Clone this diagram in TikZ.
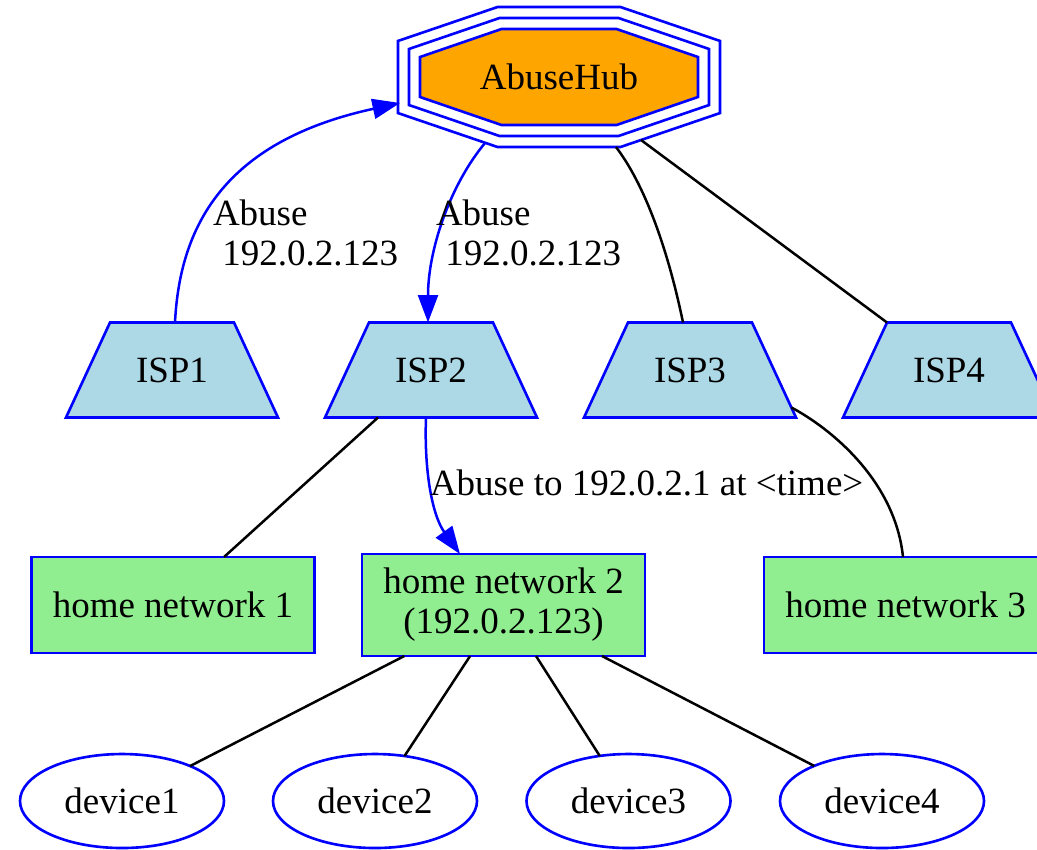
\documentclass[tikz,border=0pt]{standalone}
\usepackage{fontspec}
\setmainfont{Liberation Serif}
\usetikzlibrary{calc,arrows.meta,shapes.geometric}
\pgfdeclarelayer{background}
\pgfsetlayers{background,main}
\definecolor{hubfill}{HTML}{FFA500}
\definecolor{ispfill}{HTML}{ADD8E6}
\definecolor{homefill}{HTML}{90EE90}
\definecolor{edgeblue}{HTML}{0000FF}

\begin{document}
\begin{tikzpicture}[x=0.4pt,y=-0.4pt,
  every node/.style={font=\fontsize{14.8}{16}\selectfont, inner sep=0pt, outer sep=0pt},
  outline/.style={draw=edgeblue, line width=1.05pt},
  ispbox/.style={rectangle, minimum width=84.8pt, minimum height=38pt},
  homebox/.style={outline, fill=homefill, rectangle, minimum width=113.2pt, minimum height=38.4pt, align=center},
  devicebox/.style={outline, ellipse, minimum width=81.6pt, minimum height=37.6pt},
  link/.style={line width=1pt, black},
  flow/.style={line width=1pt, edgeblue, -{Triangle[length=11pt,width=8pt]}},
  flowlabel/.style={anchor=base west},
]
\useasboundingbox (0,0) rectangle (1037,849);
\clip (0,0) rectangle (1037,849);

% white page and the hub: triple octagon
\coordinate (hubc) at (559,77);
\begin{pgfonlayer}{background}
  \fill[white] (0,0) rectangle (1037,849);
  \foreach \d/\fc in {22/none, 11/none, 0/hubfill}{
    \draw[outline, fill=\fc]
      ($(hubc)+({-57.5-0.18*\d},{-48-\d})$) -- ($(hubc)+({57.5+0.18*\d},{-48-\d})$)
      -- ($(hubc)+({139+\d},{-20-0.73*\d})$) -- ($(hubc)+({139+\d},{20+0.73*\d})$)
      -- ($(hubc)+({57.5+0.18*\d},{48+\d})$) -- ($(hubc)+({-57.5-0.18*\d},{48+\d})$)
      -- ($(hubc)+({-139-\d},{20+0.73*\d})$) -- ($(hubc)+({-139-\d},{-20-0.73*\d})$)
      -- cycle;
  }
\end{pgfonlayer}
\node (hub) at (hubc) {AbuseHub};

% providers
\node[ispbox] (isp1) at (172,370) {ISP1};
\node[ispbox] (isp2) at (431,370) {ISP2};
\node[ispbox] (isp3) at (690,370) {ISP3};
\node[ispbox] (isp4) at (949,370) {ISP4};
\begin{pgfonlayer}{background}
  \foreach \n in {isp1,isp2,isp3,isp4}{
    \draw[outline, fill=ispfill] (\n.south west) -- (\n.south east)
      -- ($(\n.north east)+(-44,0)$) -- ($(\n.north west)+(44,0)$) -- cycle;
  }
\end{pgfonlayer}

% home networks
\node[homebox] (hn1) at (173,605) {home network 1};
\node[homebox, minimum height=40.8pt] (hn2) at (503.5,605) {home network 2\\(192.0.2.123)};
\node[homebox] (hn3) at (905.5,605) {home network 3};

% devices
\node[devicebox] (d1) at (122,801) {device1};
\node[devicebox] (d2) at (375,801) {device2};
\node[devicebox] (d3) at (628.5,801) {device3};
\node[devicebox] (d4) at (882,801) {device4};

% connectors
\draw[flow] ($(isp1.north)+(3,0)$) .. controls (180,220) and (230,140) .. ($(hub)+(-159,26)$);
\draw[flow] ($(hub)+(-74,66)$) .. controls (450,185) and (428,250) .. ($(isp2.north)+(-3,0)$);
\draw[link] ($(hub)+(57,70)$) .. controls (645,185) and (668,250) .. ($(isp3.north)+(-7,0)$);
\draw[link] ($(hub)+(82,63)$) -- ($(isp4.north west)+(44,0)$);
\draw[link] ($(isp2.south)+(-53,0)$) -- ($(hn1.north)+(51,0)$);
\draw[flow] ($(isp2.south)+(-5,0)$) .. controls (424,470) and (432,515) .. ($(hn2.north)+(-43.5,0)$);
\draw[link] ($(isp3.south east)+(-4.6,-10)$) .. controls (830,428) and (895,480) .. ($(hn3.north)+(-2.5,0)$);
\foreach \dv in {d1,d2,d3,d4}{
  \draw[link] (hn2) -- (\dv);
}

% connector labels
\node[flowlabel] (lab1) at (213,225) {\begin{tabular}[t]{@{}l@{}}Abuse\\\hspace*{0.25em}192.0.2.123\end{tabular}};
\node[flowlabel] (lab2) at (436,225) {\begin{tabular}[t]{@{}l@{}}Abuse\\\hspace*{0.25em}192.0.2.123\end{tabular}};
\node[flowlabel] (lab3) at (430,495) {Abuse to 192.0.2.1 at <time>};
\end{tikzpicture}
\end{document}
